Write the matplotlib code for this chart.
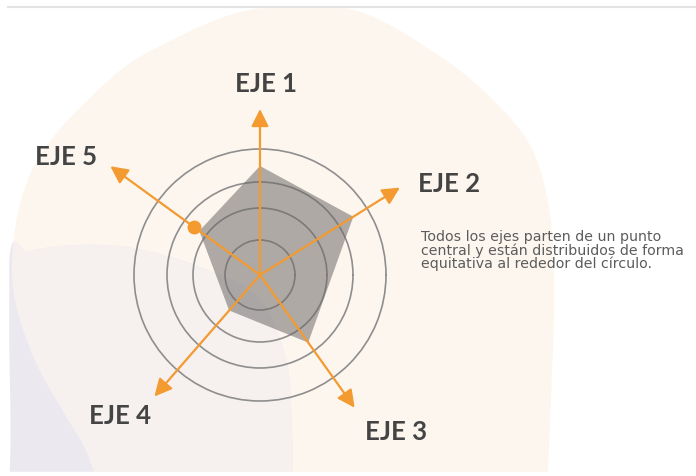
import numpy as np
import matplotlib.pyplot as plt
from matplotlib.path import Path
from matplotlib.patches import PathPatch

# datos del diagrama
ejes = ['EJE 1', 'EJE 2', 'EJE 3', 'EJE 4', 'EJE 5']
angulos = [90, 32, -54.5, -131, 144]          # grados
largo_flecha = [166, 165, 163, 161, 185]
valores = [109, 110, 83, 47, 75]
anillos = [35, 67, 93, 126]
punto_eje = 4
punto_valor = 82

texto = ["Todos los ejes parten de un punto",
         "central y están distribuidos de forma",
         "equitativa al rededor del círculo."]

naranja = '#f39a30'
gris_texto = '#444444'

W, H = 696, 477
cx, cy = 260, 276
R = 190


def blob(points):
    # curva cerrada suave (catmull-rom -> bezier)
    p = np.array(points, dtype=float)
    n = len(p)
    verts = [p[0]]
    codes = [Path.MOVETO]
    for i in range(n):
        p0, p1, p2, p3 = p[i - 1], p[i], p[(i + 1) % n], p[(i + 2) % n]
        verts += [p1 + (p2 - p0) / 6, p2 - (p3 - p1) / 6, p2]
        codes += [Path.CURVE4] * 3
    return Path(verts, codes)


fig = plt.figure(figsize=(W / 100, H / 100), dpi=100)
bg = fig.add_axes([0, 0, 1, 1])
bg.set_xlim(0, W)
bg.set_ylim(H, 0)
bg.axis('off')

melocoton = [(140, 530), (80, 440), (30, 350), (12, 265), (35, 165), (110, 80),
             (170, 42), (240, 13), (300, 9), (364, 14), (444, 60), (495, 103),
             (532, 150), (550, 215), (554, 300), (551, 400), (548, 470),
             (545, 540), (350, 560)]
lavanda = [(-20, 560), (9, 480), (9, 262), (30, 252), (75, 246), (133, 249),
           (200, 268), (258, 298), (286, 360), (292, 430), (292, 490),
           (290, 560), (130, 580)]

p_mel = PathPatch(blob(melocoton), fc='#fdf6ee', ec='none', zorder=0)
bg.add_patch(p_mel)
p_lav = PathPatch(blob(lavanda), fc='#ebe9ef', ec='none', zorder=1)
bg.add_patch(p_lav)
p_mix = PathPatch(blob(melocoton), fc='#f6f0ef', ec='none', zorder=2)
bg.add_patch(p_mix)
p_mix.set_clip_path(p_lav)
bg.fill_between([0, W], 473, H, color='white', zorder=3)
bg.fill_between([0, 8], 0, H, color='white', zorder=3)
bg.plot([8, W], [8, 8], color='#e3e3e3', lw=1.5, zorder=4)

# posiciones de las etiquetas (px)
etiq_pos = [(266, 84), (449, 184), (396, 432), (120, 416), (66, 157)]
for nombre, (x, y) in zip(ejes, etiq_pos):
    bg.text(x, y, nombre, ha='center', va='center', fontsize=18.5,
            fontweight='bold', family='Lato', color=gris_texto, zorder=5)

for i, linea in enumerate(texto):
    bg.text(421, 237 + 13.5 * i, linea, ha='left', va='center', fontsize=10.2,
            family='DejaVu Sans', color='#5c5c5c', zorder=5)

# radar
ax = fig.add_axes([(cx - R) / W, (H - cy - R) / H, 2 * R / W, 2 * R / H],
                  projection='polar')
ax.patch.set_alpha(0)
ax.spines['polar'].set_visible(False)
ax.set_ylim(0, R)
ax.set_xticks([])
ax.set_yticks(anillos)
ax.set_yticklabels([])
ax.yaxis.grid(True, color='#8e8e8e', lw=1.2)
ax.xaxis.grid(False)

th = np.radians(angulos)
ax.fill(np.append(th, th[0]), valores + valores[:1], color='#6d6a68',
        alpha=0.55, lw=0, zorder=2)

for t, L in zip(th, largo_flecha):
    ax.annotate('', xy=(t, L), xytext=(0, 0), annotation_clip=False, zorder=4,
                arrowprops=dict(arrowstyle='-|>,head_length=0.7,head_width=0.35',
                                color=naranja, lw=1.6, shrinkA=0, shrinkB=0,
                                mutation_scale=15))

ax.plot(th[punto_eje], punto_valor, 'o', ms=9, color=naranja, zorder=5,
        clip_on=False)

fig.savefig('out.png', dpi=100)
